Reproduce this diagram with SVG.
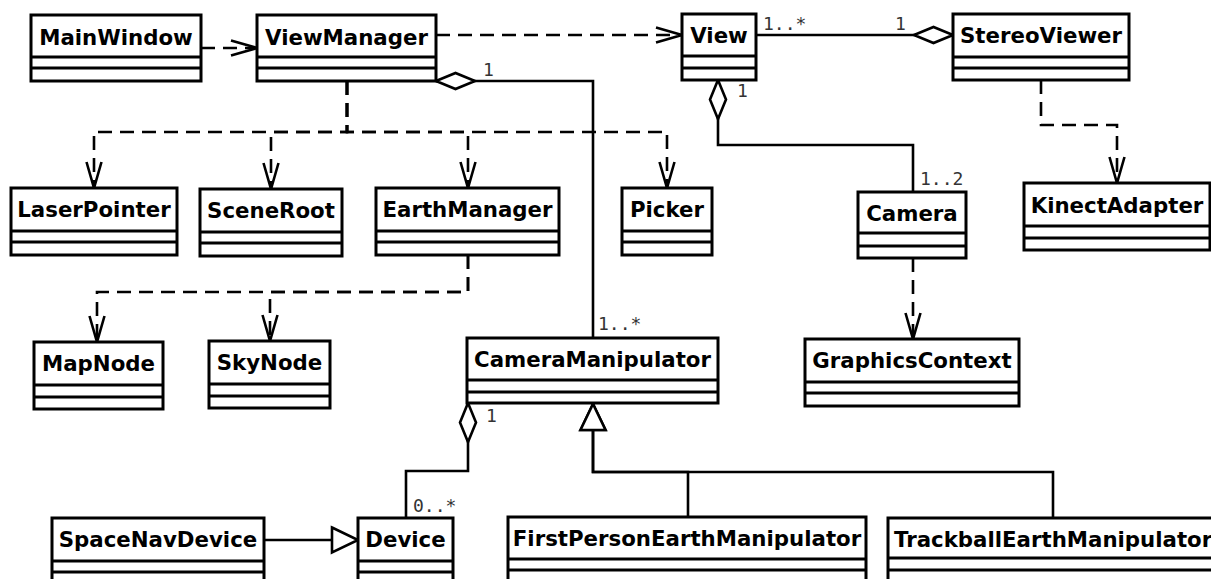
<svg xmlns="http://www.w3.org/2000/svg" width="1211" height="579" viewBox="0 0 1211 579">
<style>
.box{fill:#fff;stroke:#000;stroke-width:3}
.div{stroke:#000;stroke-width:3}
.name{font-family:"DejaVu Sans","Liberation Sans",sans-serif;font-weight:bold;font-size:21.3px;fill:#000;text-anchor:middle}
.solid{fill:none;stroke:#000;stroke-width:2.6}
.dash{fill:none;stroke:#000;stroke-width:2.6;stroke-dasharray:14 8}
.mult{font-family:"DejaVu Sans Mono","Liberation Mono",monospace;font-size:18px;fill:#333}
</style>
<defs>
<marker id="open" viewBox="-30 -12 34 24" refX="0" refY="0" markerWidth="34" markerHeight="24" markerUnits="userSpaceOnUse" orient="auto" overflow="visible">
<path d="M-26,-7.5 L0,0 L-26,7.5" fill="none" stroke="#000" stroke-width="2.6" stroke-dasharray="none"/>
</marker>
<marker id="diamond" viewBox="-3 -11 46 22" refX="0" refY="0" markerWidth="46" markerHeight="22" markerUnits="userSpaceOnUse" orient="auto" overflow="visible">
<path d="M0,0 L19.5,-8 L39,0 L19.5,8 Z" fill="#fff" stroke="#000" stroke-width="2.6"/>
</marker>
<marker id="tri" viewBox="-30 -16 34 32" refX="0" refY="0" markerWidth="34" markerHeight="32" markerUnits="userSpaceOnUse" orient="auto" overflow="visible">
<path d="M-26,-12.5 L0,0 L-26,12.5 Z" fill="#fff" stroke="#000" stroke-width="2.6"/>
</marker>
</defs>
<rect width="1211" height="579" fill="#fff"/>

<g id="connectors">
<path class="dash" d="M201,48 H257" marker-end="url(#open)"/>
<path class="dash" d="M436,35 H682" marker-end="url(#open)"/>
<path class="dash" d="M347,81 V132 H94 V188" marker-end="url(#open)"/>
<path class="dash" d="M347,81 V132 H271 V189" marker-end="url(#open)"/>
<path class="dash" d="M347,81 V132 H468 V188" marker-end="url(#open)"/>
<path class="dash" d="M347,81 V132 H667 V188" marker-end="url(#open)"/>
<path class="dash" d="M468,255 V292 H97 V342" marker-end="url(#open)"/>
<path class="dash" d="M468,255 V292 H270 V341" marker-end="url(#open)"/>
<path class="dash" d="M1041,80 V125 H1117 V183" marker-end="url(#open)"/>
<path class="dash" d="M913,258 V339" marker-end="url(#open)"/>
<path class="solid" d="M436,81 H593 V338" marker-start="url(#diamond)"/>
<path class="solid" d="M953,35 H756" marker-start="url(#diamond)"/>
<path class="solid" d="M718,80 V145 H913 V192" marker-start="url(#diamond)"/>
<path class="solid" d="M468,403 V471 H406 V518" marker-start="url(#diamond)"/>
<path class="solid" d="M264,540 H358" marker-end="url(#tri)"/>
<path class="solid" d="M688,517 V472 H593 V404" marker-end="url(#tri)"/>
<path class="solid" d="M1053,518 V472 H593 V404" marker-end="url(#tri)"/>
<text class="mult" x="483" y="76">1</text>
<text class="mult" x="598" y="330">1..*</text>
<text class="mult" x="895" y="30">1</text>
<text class="mult" x="763" y="30">1..*</text>
<text class="mult" x="737" y="97">1</text>
<text class="mult" x="920" y="185">1..2</text>
<text class="mult" x="486" y="422">1</text>
<text class="mult" x="413" y="512">0..*</text>
</g>

<g id="MainWindow">
<rect class="box" x="31" y="15" width="170" height="66"/>
<path class="div" d="M31,57 H201 M31,68 H201"/>
<text class="name" x="116" y="45">MainWindow</text>
</g>
<g id="ViewManager">
<rect class="box" x="257" y="15" width="179" height="66"/>
<path class="div" d="M257,57 H436 M257,68 H436"/>
<text class="name" x="346.5" y="45">ViewManager</text>
</g>
<g id="View">
<rect class="box" x="682" y="14" width="74" height="66"/>
<path class="div" d="M682,56 H756 M682,68 H756"/>
<text class="name" x="719" y="43">View</text>
</g>
<g id="StereoViewer">
<rect class="box" x="953" y="14" width="176" height="66"/>
<path class="div" d="M953,57 H1129 M953,68 H1129"/>
<text class="name" x="1041" y="43">StereoViewer</text>
</g>
<g id="LaserPointer">
<rect class="box" x="11" y="188" width="166" height="67"/>
<path class="div" d="M11,231 H177 M11,242 H177"/>
<text class="name" x="94" y="217">LaserPointer</text>
</g>
<g id="SceneRoot">
<rect class="box" x="200" y="189" width="142" height="67"/>
<path class="div" d="M200,232 H342 M200,243 H342"/>
<text class="name" x="271" y="218">SceneRoot</text>
</g>
<g id="EarthManager">
<rect class="box" x="376" y="188" width="183" height="67"/>
<path class="div" d="M376,231 H559 M376,242 H559"/>
<text class="name" x="467.5" y="217">EarthManager</text>
</g>
<g id="Picker">
<rect class="box" x="622" y="188" width="90" height="67"/>
<path class="div" d="M622,231 H712 M622,242 H712"/>
<text class="name" x="667" y="217">Picker</text>
</g>
<g id="Camera">
<rect class="box" x="858" y="192" width="108" height="66"/>
<path class="div" d="M858,233 H966 M858,246 H966"/>
<text class="name" x="912" y="221">Camera</text>
</g>
<g id="KinectAdapter">
<rect class="box" x="1024" y="183" width="186" height="67"/>
<path class="div" d="M1024,226 H1210 M1024,238 H1210"/>
<text class="name" x="1117" y="213">KinectAdapter</text>
</g>
<g id="MapNode">
<rect class="box" x="34" y="342" width="129" height="67"/>
<path class="div" d="M34,385 H163 M34,397 H163"/>
<text class="name" x="98.5" y="371">MapNode</text>
</g>
<g id="SkyNode">
<rect class="box" x="209" y="341" width="121" height="67"/>
<path class="div" d="M209,384 H330 M209,396 H330"/>
<text class="name" x="269.5" y="370">SkyNode</text>
</g>
<g id="CameraManipulator">
<rect class="box" x="467" y="338" width="251" height="65"/>
<path class="div" d="M467,380 H718 M467,392 H718"/>
<text class="name" x="592.5" y="367">CameraManipulator</text>
</g>
<g id="GraphicsContext">
<rect class="box" x="805" y="339" width="214" height="67"/>
<path class="div" d="M805,382 H1019 M805,393 H1019"/>
<text class="name" x="912" y="368">GraphicsContext</text>
</g>
<g id="SpaceNavDevice">
<rect class="box" x="52" y="518" width="212" height="67"/>
<path class="div" d="M52,561 H264 M52,572 H264"/>
<text class="name" x="158" y="547">SpaceNavDevice</text>
</g>
<g id="Device">
<rect class="box" x="358" y="518" width="95" height="67"/>
<path class="div" d="M358,561 H453 M358,572 H453"/>
<text class="name" x="405.5" y="547">Device</text>
</g>
<g id="FirstPersonEarthManipulator">
<rect class="box" x="508" y="517" width="358" height="68"/>
<path class="div" d="M508,559 H866 M508,570 H866"/>
<text class="name" x="687" y="546">FirstPersonEarthManipulator</text>
</g>
<g id="TrackballEarthManipulator">
<rect class="box" x="888" y="518" width="342" height="67"/>
<path class="div" d="M888,558 H1230 M888,570 H1230"/>
<text class="name" x="894" y="547" style="text-anchor:start">TrackballEarthManipulator</text>
</g>
</svg>
